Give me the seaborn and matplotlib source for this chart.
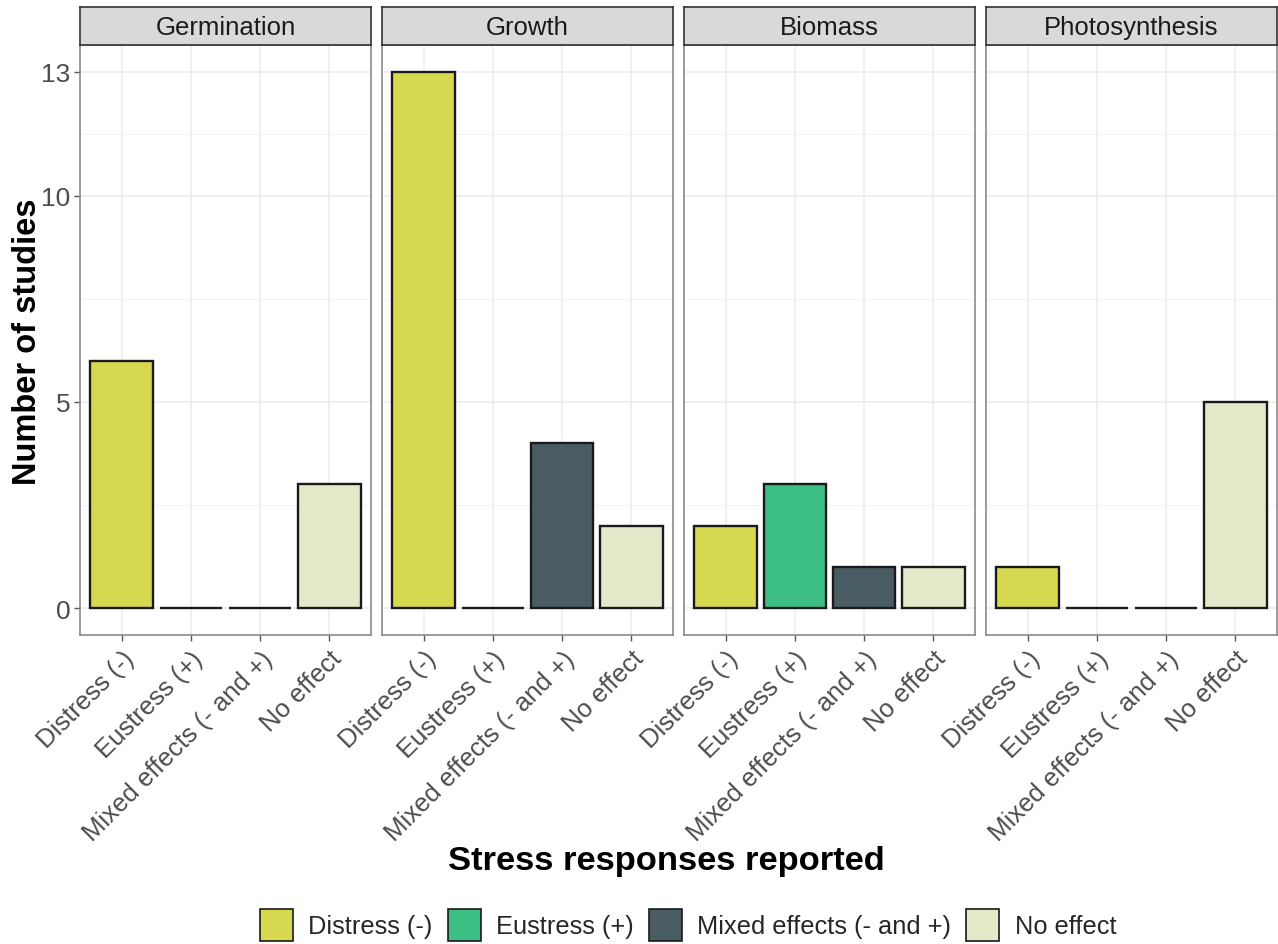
import matplotlib
matplotlib.use("Agg")
import matplotlib.pyplot as plt
from matplotlib.patches import Patch
import seaborn as sns
import pandas as pd

# Data
panels = ["Germination", "Growth", "Biomass", "Photosynthesis"]
responses = ["Distress (-)", "Eustress (+)", "Mixed effects (- and +)", "No effect"]
germination = [6, 0, 0, 3]
growth = [13, 0, 4, 2]
biomass = [2, 3, 1, 1]
photosynthesis = [1, 0, 0, 5]
colors = ["#d6d94f", "#3dbe85", "#4a5c63", "#e5e9c9"]
y_breaks = [0, 5, 10, 13]
y_minor = [2.5, 7.5, 11.5]

counts = [germination, growth, biomass, photosynthesis]
df = pd.DataFrame(
    [(p, r, v) for p, vals in zip(panels, counts) for r, v in zip(responses, vals)],
    columns=["panel", "response", "count"],
)
palette = dict(zip(responses, colors))

sns.set_theme(style="white")
plt.rcParams["font.family"] = ["Liberation Sans", "DejaVu Sans"]

W, H = 1278, 945
fig = plt.figure(figsize=(W / 100, H / 100), dpi=100)

left0, step, width = 80, 302, 291
top_px, bot_px = 46, 636
strip_h = 38
edge_col = "#333333"

for i, p in enumerate(panels):
    l = (left0 + i * step) / W
    w = width / W
    b = (H - bot_px) / H
    h = (bot_px - top_px) / H
    ax = fig.add_axes([l, b, w, h])
    sub = df[df["panel"] == p]
    ax.set_axisbelow(True)
    sns.barplot(
        data=sub, x="response", y="count", hue="response",
        order=responses, hue_order=responses, palette=palette,
        saturation=1, width=0.9, edgecolor="#1a1a1a", linewidth=1.7,
        errorbar=None, legend=False, ax=ax,
    )
    ax.set_xlim(-0.6, 3.6)
    ax.set_ylim(-0.65, 13.65)
    ax.set_yticks(y_breaks)
    ax.set_yticks(y_minor, minor=True)
    ax.grid(True, which="major", color="#ebebeb", linewidth=1.1)
    ax.grid(True, which="minor", axis="y", color="#f2f2f2", linewidth=0.7)
    ax.set_xlabel("")
    ax.set_ylabel("")
    for s in ax.spines.values():
        s.set_color("#8a8a8a")
        s.set_linewidth(1.2)
    ax.set_xticks(range(len(responses)))
    ax.set_xticklabels(responses, rotation=45, ha="right", rotation_mode="anchor",
                       fontsize=18.5, color="#4d4d4d")
    ax.tick_params(axis="x", which="major", length=4, width=1, color="#555555",
                   bottom=True, pad=4)
    if i == 0:
        ax.tick_params(axis="y", which="major", length=4, width=1, color="#555555",
                       left=True, labelsize=19, labelcolor="#4d4d4d", pad=3)
    else:
        ax.tick_params(axis="y", which="both", left=False, labelleft=False)
    ax.tick_params(axis="y", which="minor", left=False)

    # Facet strip
    sax = fig.add_axes([l, (H - top_px) / H, w, strip_h / H])
    sax.set_facecolor("#d9d9d9")
    sax.set_xticks([])
    sax.set_yticks([])
    for s in sax.spines.values():
        s.set_color(edge_col)
        s.set_linewidth(1.2)
    sax.text(0.5, 0.48, p, ha="center", va="center", fontsize=18.5,
             color="#1a1a1a", transform=sax.transAxes)

fig.text(28 / W, 1 - 342 / H, "Number of studies", rotation=90, ha="center",
         va="center", fontsize=23.5, fontweight="bold", color="black")
fig.text(666 / W, 1 - 862 / H, "Stress responses reported", ha="center",
         va="center", fontsize=24.8, fontweight="bold", color="black")

handles = [Patch(facecolor=c, edgecolor="#1a1a1a", linewidth=1.2, label=r)
           for r, c in zip(responses, colors)]
fig.legend(handles=handles, loc="center", bbox_to_anchor=(688 / W, 1 - 926 / H),
           ncol=4, frameon=False, fontsize=18.3, handlelength=1.3,
           handleheight=1.6, handletextpad=0.6, columnspacing=0.6,
           borderpad=0)

fig.savefig("out.png", dpi=100)
